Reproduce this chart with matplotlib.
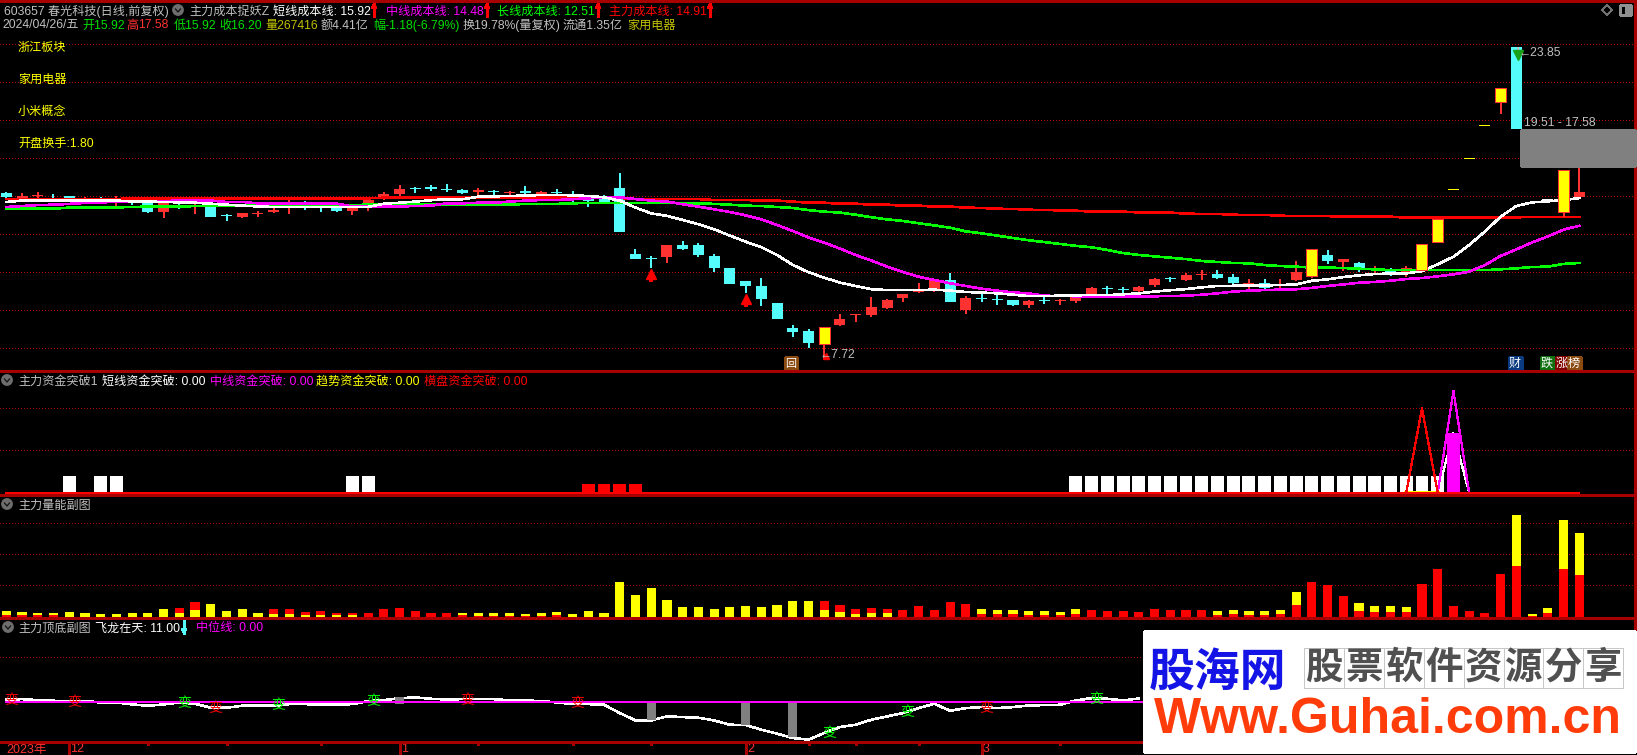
import numpy as np
import matplotlib
matplotlib.use("Agg")
import matplotlib.pyplot as plt
from matplotlib.patches import Rectangle, Circle, Polygon

plt.rcParams["font.family"] = ["Liberation Sans", "Noto Sans CJK SC", "DejaVu Sans"]
plt.rcParams["lines.antialiased"] = False
plt.rcParams["patch.antialiased"] = False

opens = [16.28, 16.00, 16.16, 16.21, 16.14, 15.93, 15.97, 15.93, 16.05, 15.97,
         15.31, 15.88, 15.73, 15.76, 15.16, 15.05, 15.19, 15.33, 15.57, 15.76,
         15.67, 15.59, 15.36, 15.73, 16.10, 16.24, 16.55, 16.60, 16.50, 16.45,
         16.35, 16.40, 16.28, 16.40, 16.24, 16.35, 16.14, 16.02, 16.10, 16.55,
         13.14, 12.92, 12.99, 13.61, 13.61, 13.04, 12.42, 11.75, 11.49, 10.61,
         9.32, 9.17, 8.49, 9.48, 9.99, 9.99, 10.35, 10.87, 11.18, 11.28,
         11.80, 10.25, 10.87, 10.82, 10.77, 10.51, 10.77, 10.73, 10.72, 11.08,
         11.37, 11.35, 11.23, 11.54, 11.90, 11.80, 12.06, 12.11, 11.95, 11.54,
         11.64, 11.54, 11.80, 12.00, 13.09, 12.73, 12.68, 12.31, 12.37, 12.21,
         12.31, 13.76, 16.43, 18.03, 19.74, 20.99, 23.85, 17.67, 15.91, 15.31, 16.09]
closes = [16.10, 16.14, 16.21, 16.17, 16.04, 15.97, 15.93, 15.97, 16.02, 15.31,
          15.76, 15.85, 15.85, 15.05, 15.11, 15.26, 15.28, 15.41, 15.62, 15.59,
          15.62, 15.36, 15.59, 15.93, 16.24, 16.50, 16.50, 16.52, 16.47, 16.29,
          16.45, 16.36, 16.35, 16.29, 16.35, 16.31, 16.07, 15.88, 15.73, 14.28,
          12.89, 12.87, 13.61, 13.40, 13.09, 12.42, 11.59, 11.49, 10.82, 9.79,
          9.11, 8.55, 9.37, 9.79, 10.03, 10.40, 10.77, 11.08, 11.23, 11.80,
          10.66, 10.87, 10.82, 10.77, 10.51, 10.72, 10.72, 10.77, 11.08, 11.39,
          11.32, 11.30, 11.45, 11.85, 11.85, 12.06, 12.11, 11.90, 11.64, 11.64,
          11.39, 11.59, 12.21, 13.40, 12.78, 12.88, 12.42, 12.42, 12.21, 12.42,
          13.66, 14.95, 16.48, 18.08, 19.79, 21.72, 19.60, 17.72, 15.97, 17.48, 16.34]
highs = [16.35, 16.29, 16.35, 16.26, 16.14, 16.10, 16.10, 16.14, 16.10, 15.97,
         15.85, 15.97, 16.02, 15.76, 15.21, 15.26, 15.36, 15.52, 15.93, 15.88,
         15.76, 15.59, 15.59, 16.04, 16.35, 16.71, 16.60, 16.71, 16.76, 16.50,
         16.55, 16.45, 16.40, 16.66, 16.40, 16.50, 16.40, 16.19, 16.19, 17.33,
         13.40, 13.04, 13.61, 13.81, 13.71, 13.14, 12.42, 11.75, 11.90, 10.61,
         9.48, 9.27, 9.37, 10.04, 10.03, 10.92, 10.82, 11.08, 11.65, 11.80,
         12.16, 10.97, 11.08, 11.08, 10.77, 10.77, 10.97, 10.82, 11.08, 11.44,
         11.49, 11.45, 11.50, 11.90, 11.95, 12.16, 12.31, 12.31, 12.11, 11.85,
         11.85, 11.85, 12.78, 13.40, 13.35, 12.88, 12.73, 12.52, 12.42, 12.52,
         13.66, 14.95, 16.48, 18.08, 19.79, 21.72, 23.85, 17.72, 15.97, 17.48, 17.69]
lows = [16.02, 15.97, 16.02, 16.05, 16.02, 15.74, 15.76, 15.62, 15.67, 15.26,
        15.00, 15.47, 15.21, 15.05, 14.85, 15.00, 15.05, 15.26, 15.21, 15.41,
        15.31, 15.31, 15.16, 15.36, 15.93, 16.14, 16.29, 16.40, 16.35, 16.24,
        16.14, 16.14, 16.14, 16.24, 16.19, 16.14, 15.67, 15.57, 15.73, 14.28,
        12.89, 12.42, 12.68, 13.35, 12.99, 12.21, 11.59, 11.13, 10.46, 9.79,
        8.86, 8.29, 7.72, 9.42, 9.63, 9.89, 10.30, 10.66, 11.13, 11.18,
        10.66, 10.04, 10.66, 10.51, 10.46, 10.35, 10.56, 10.51, 10.61, 11.08,
        11.08, 11.11, 11.11, 11.44, 11.70, 11.75, 11.80, 11.85, 11.54, 11.28,
        11.33, 11.33, 11.75, 11.90, 12.63, 12.26, 12.21, 12.11, 12.00, 11.95,
        12.31, 13.76, 16.43, 18.03, 19.74, 20.37, 19.60, 17.67, 15.91, 15.05, 16.03]
yellow_days = [52, 83, 90, 91, 95, 99]
limit_days = [92, 93, 94]
white_days = [97, 98]

short_cost = [15.83, 15.90, 15.90, 15.90, 15.90, 15.90, 15.90, 15.90, 15.86, 15.85,
              15.83, 15.81, 15.79, 15.74, 15.69, 15.64, 15.60, 15.57, 15.57, 15.57,
              15.57, 15.57, 15.57, 15.57, 15.74, 15.79, 15.85, 15.92, 15.97, 15.97,
              16.10, 16.12, 16.14, 16.16, 16.19, 16.20, 16.17, 16.14, 16.07, 15.90,
              15.54, 15.24, 15.11, 14.90, 14.68, 14.42, 14.09, 13.78, 13.49, 13.09,
              12.58, 12.20, 11.92, 11.66, 11.49, 11.32, 11.28, 11.28, 11.28, 11.30,
              11.25, 11.18, 11.15, 11.11, 11.04, 10.97, 10.97, 10.99, 11.01, 11.02,
              11.02, 11.06, 11.11, 11.20, 11.27, 11.33, 11.42, 11.49, 11.50, 11.52,
              11.52, 11.54, 11.57, 11.76, 11.83, 11.95, 12.04, 12.11, 12.13, 12.14,
              12.26, 12.61, 13.00, 13.61, 14.30, 15.07, 15.62, 15.81, 15.86, 15.93, 16.03]
mid_cost = [15.57, 15.62, 15.67, 15.69, 15.73, 15.78, 15.81, 15.83, 15.86, 15.88,
            15.88, 15.90, 15.90, 15.90, 15.83, 15.83, 15.76, 15.76, 15.76, 15.76,
            15.76, 15.74, 15.60, 15.60, 15.60, 15.60, 15.62, 15.64, 15.76, 15.76,
            15.79, 15.79, 15.85, 15.90, 15.93, 15.93, 15.97, 16.02, 16.05, 16.07,
            15.98, 15.90, 15.85, 15.71, 15.59, 15.45, 15.31, 15.14, 14.93, 14.64,
            14.33, 14.00, 13.73, 13.42, 13.09, 12.80, 12.49, 12.21, 11.97, 11.80,
            11.63, 11.49, 11.35, 11.25, 11.16, 11.11, 10.99, 10.97, 10.96, 10.94,
            10.94, 10.94, 10.94, 10.96, 10.97, 10.99, 11.04, 11.11, 11.20, 11.25,
            11.28, 11.30, 11.32, 11.39, 11.49, 11.57, 11.66, 11.70, 11.76, 11.85,
            11.90, 11.99, 12.09, 12.23, 12.57, 13.04, 13.38, 13.74, 14.05, 14.40, 14.60]
long_cost = [15.47, 15.48, 15.48, 15.48, 15.54, 15.55, 15.55, 15.55, 15.57, 15.59,
             15.59, 15.59, 15.62, 15.62, 15.62, 15.62, 15.67, 15.67, 15.67, 15.67,
             15.67, 15.67, 15.67, 15.69, 15.69, 15.69, 15.69, 15.69, 15.69, 15.69,
             15.69, 15.69, 15.69, 15.73, 15.73, 15.73, 15.76, 15.78, 15.78, 15.78,
             15.78, 15.78, 15.78, 15.76, 15.76, 15.73, 15.69, 15.64, 15.62, 15.57,
             15.52, 15.41, 15.33, 15.28, 15.17, 15.04, 14.93, 14.85, 14.73, 14.62,
             14.50, 14.31, 14.21, 14.09, 13.97, 13.85, 13.76, 13.66, 13.56, 13.49,
             13.35, 13.19, 13.09, 13.02, 12.95, 12.88, 12.78, 12.73, 12.68, 12.66,
             12.57, 12.52, 12.49, 12.44, 12.44, 12.42, 12.38, 12.35, 12.31, 12.31,
             12.31, 12.31, 12.31, 12.31, 12.31, 12.35, 12.40, 12.47, 12.49, 12.63, 12.68]
main_cost = [15.98, 15.98, 15.98, 15.98, 15.98, 15.98, 15.98, 15.98, 16.02, 16.02,
             16.02, 16.02, 16.02, 16.02, 16.02, 16.02, 16.02, 16.02, 16.02, 16.02,
             16.02, 16.02, 16.02, 16.02, 16.05, 16.05, 16.05, 16.05, 16.05, 16.05,
             16.05, 16.05, 16.05, 16.05, 16.05, 16.05, 16.05, 16.05, 16.04, 16.04,
             15.98, 15.98, 15.98, 15.98, 15.98, 15.93, 15.93, 15.93, 15.90, 15.90,
             15.85, 15.79, 15.79, 15.74, 15.74, 15.69, 15.69, 15.64, 15.64, 15.59,
             15.59, 15.54, 15.52, 15.48, 15.47, 15.43, 15.41, 15.40, 15.38, 15.33,
             15.33, 15.33, 15.29, 15.28, 15.28, 15.23, 15.21, 15.21, 15.17, 15.16,
             15.16, 15.12, 15.10, 15.10, 15.10, 15.07, 15.07, 15.07, 15.07, 15.02,
             15.02, 15.02, 15.02, 15.02, 15.02, 15.04, 15.04, 15.05, 15.05, 15.05, 15.05]
price_grid = [23.99, 22.03, 20.06, 18.10, 16.14, 14.17, 12.21, 10.25, 8.29]

# breakout panel
white_bar_days = [4, 6, 7, 22, 23] + list(range(68, 92))
white_bar_val = 50
red_bar_days = [37, 38, 39, 40]
red_bar_val = 26
red_spike_days = [89, 90, 91]
red_spike = [0, 253, 0]
magenta_spike_days = [91, 92, 93]
magenta_spike = [0, 305, 0]
white_spike = [0, 178, 0]
yellow_flat_days = [89, 90, 91]
yellow_flat = [-2, -2, -2]
magenta_bar_day = [92]
magenta_bar_val = [178]
breakout_grid = [127, 253]

# volume panel
vol_red = [6, 5, 5, 5, 0, 0, 0, 0, 0, 0,
           0, 27, 45, 0, 0, 0, 0, 24, 24, 15,
           18, 12, 12, 12, 24, 27, 18, 12, 12, 6,
           3, 3, 3, 3, 4, 5, 0, 0, 0, 0,
           0, 0, 0, 0, 0, 0, 0, 0, 0, 0,
           0, 0, 48, 36, 24, 27, 24, 21, 33, 21,
           45, 39, 9, 9, 9, 6, 6, 6, 9, 21,
           18, 18, 15, 24, 21, 21, 21, 6, 9, 6,
           6, 9, 36, 105, 96, 63, 18, 15, 15, 15,
           99, 144, 33, 18, 12, 129, 153, 3, 12, 144, 126]
vol_yellow = [18, 15, 12, 12, 15, 12, 9, 9, 12, 12,
              24, 12, 21, 39, 18, 24, 12, 9, 9, 6,
              6, 6, 6, 0, 0, 0, 0, 0, 0, 12,
              12, 12, 12, 9, 12, 15, 9, 18, 12, 105,
              66, 87, 51, 30, 30, 24, 30, 33, 30, 36,
              48, 48, 21, 15, 9, 12, 12, 0, 0, 0,
              0, 0, 24, 21, 21, 18, 18, 15, 24, 0,
              0, 0, 0, 0, 0, 0, 0, 18, 21, 18,
              18, 21, 75, 0, 0, 0, 42, 33, 33, 30,
              0, 0, 0, 0, 0, 0, 306, 9, 27, 291, 252]
vol_grid = [95, 188, 281]

# top/bottom panel
dragon = [8, 10, 7, 5, 4, 4, 0, 0, -6, -10,
          -6, 0, -4, -16, -16, -10, -10, -10, -5, -5,
          -7, -7, -5, 4, 7, 13, 15, 11, 9, 10,
          10, 10, 6, 6, 4, 0, -5, -5, -7, -32,
          -54, -54, -42, -44, -46, -54, -67, -68, -82, -94,
          -107, -112, -92, -74, -67, -52, -42, -32, -17, -4,
          -25, -17, -14, -17, -14, -9, -8, -7, 6, 13,
          11, 6, 12]
gray_days = [25, 41, 47, 50]
gray_top = [15, 0, 0, 0]
gray_bottom = [-4, -54, -68, -105]
red_flip_days = [0, 4, 13, 29, 36, 62]
red_flip_vals = [8, 2, -17, 8, -2, -17]
green_flip_days = [11, 17, 23, 52, 57, 69]
green_flip_vals = [-2, -7, 5, -92, -28, 10]
minor_days = [9, 14, 20, 30, 36, 41, 51, 54, 58, 67]
month_days = [4, 25, 47, 62]
month_labels = ["12", "1", "2", "3"]

W, H = 1637, 755
RED = "#ff3232"
CYAN = "#54fcfc"
LINE = "#a80000"
GRID = "#b00000"
DOT = (0, (1, 3))


def make_axes(top, bottom):
    ax = fig.add_axes([0, 1 - bottom / H, 1, (bottom - top) / H])
    ax.set_facecolor("black")
    ax.set_xlim(-0.4, 103.67)
    ax.axis("off")
    return ax


def label(x, y, s, color, size=8.7, **kw):
    # baseline so mixed latin / cjk strings stay on one line
    ov.text(x, y + 4.5, s, color=color, fontsize=size, va="baseline", ha="left", **kw)


def fold_icon(x, y):
    ov.add_patch(Circle((x, y), 5.2, color="#6e6e6e", antialiased=True))
    ov.plot([x - 2.5, x, x + 2.5], [y - 1, y + 2, y - 1], color="#111111", lw=0.9, antialiased=True)


def thin_arrow(x, y, color, up=True):
    ov.plot([x, x], [y - 6, y + 6], color=color, lw=0.8)
    d = 1 if up else -1
    tip = y - 6 * d
    ov.add_patch(Polygon([[x - 2, tip + 4 * d], [x, tip], [x + 2, tip + 4 * d]], color=color))


fig = plt.figure(figsize=(W / 100, H / 100), dpi=100, facecolor="black")
days = np.arange(len(opens))

# main panel: prices are linear
ax = make_axes(1, 371)
ax.set_ylim(26.262 - 371 / 19.36, 26.262 - 1 / 19.36)
for p in price_grid:
    ax.axhline(p, color="#c00000", lw=0.7, ls=DOT, zorder=1)
o = np.array(opens)
c = np.array(closes)
colors = np.where(c >= o, RED, CYAN)
plain = [i for i in days if i not in yellow_days + limit_days + white_days]
ax.vlines(plain, np.array(lows)[plain], np.array(highs)[plain], colors=colors[plain], lw=1.2, zorder=2)
ax.bar(plain, np.abs(c - o)[plain], bottom=np.minimum(o, c)[plain], width=0.7, color=colors[plain], zorder=2)
ax.plot(days, main_cost, color="#ff0000", lw=1.15, zorder=3)
ax.plot(days, long_cost, color="#00ff00", lw=1.15, zorder=3)
ax.plot(days, mid_cost, color="#ff00ff", lw=1.15, zorder=3)
ax.plot(days, short_cost, color="white", lw=1.15, zorder=3)
ax.vlines(yellow_days, np.array(lows)[yellow_days], np.array(highs)[yellow_days], colors=RED, lw=1.2, zorder=4)
ax.bar(yellow_days, np.abs(c - o)[yellow_days], bottom=np.minimum(o, c)[yellow_days], width=0.7,
       color="#ffff00", edgecolor=RED, linewidth=0.5, zorder=4)
ax.bar(limit_days, np.abs(c - o)[limit_days], bottom=np.minimum(o, c)[limit_days], width=0.7,
       color="#ffff00", zorder=4)
ax.bar(white_days, np.abs(c - o)[white_days], bottom=np.minimum(o, c)[white_days], width=0.7,
       color="white", zorder=4)
# signal arrows
ax.vlines([41, 47], [11.71, 10.40], [12.0, 10.7], colors="#ff0000", lw=1.6, zorder=5)
ax.plot([41, 47], [12.12, 10.83], "^", color="#ff0000", ms=7.5, zorder=5)
ax.plot([52.1], [7.87], "^", color="#ff0000", ms=5, zorder=5)
ax.vlines([96.1], [23.45], [23.85], colors="#c0c0c0", lw=1.2, zorder=5)
ax.plot([96.1], [23.4], "v", color="#19a019", ms=7.5, zorder=5)

# breakout panel
ax2 = make_axes(371, 495)
ax2.set_ylim(-7, 365)
for g in breakout_grid:
    ax2.axhline(g, color=GRID, lw=0.7, ls=DOT, zorder=1)
ax2.bar(white_bar_days, white_bar_val, width=0.82, color="white", zorder=2)
ax2.bar(red_bar_days, red_bar_val, width=0.82, color="#ff0000", zorder=2)
ax2.plot(magenta_spike_days, white_spike, color="white", lw=0.9, zorder=3)
ax2.bar(magenta_bar_day, magenta_bar_val, width=0.82, color="#ff00ff", zorder=4)
ax2.plot(magenta_spike_days, magenta_spike, color="#ff00ff", lw=0.9, zorder=4)
ax2.plot(yellow_flat_days, yellow_flat, color="#ffff00", lw=1.6, zorder=3)
ax2.plot([0, 100], [0, 0], color="#ff0000", lw=1.4, zorder=5)
ax2.plot(red_spike_days, red_spike, color="#ff0000", lw=0.9, zorder=5)

# volume panel
ax3 = make_axes(495, 618)
ax3.set_ylim(-3, 366)
for g in vol_grid:
    ax3.axhline(g, color=GRID, lw=0.7, ls=DOT, zorder=1)
vr = np.array(vol_red)
vy = np.array(vol_yellow)
# taller one goes behind
ax3.bar(days, vy, width=0.58, color="#ffff00", zorder=2)
ax3.bar(days[vr > vy], vr[vr > vy], width=0.58, color="#ff0000", zorder=3)
front = (vy < vr) & (vy > 0)
ax3.bar(days[front], vy[front], width=0.58, color="#ffff00", zorder=4)
front = (vr <= vy) & (vr > 0)
ax3.bar(days[front], vr[front], width=0.58, color="#ff0000", zorder=4)

# top/bottom panel
ax4 = make_axes(618, 742)
ax4.set_ylim(-119, 254)
ax4.axhline(136, color=GRID, lw=0.7, ls=DOT, zorder=1)
ax4.plot(days[:len(dragon)], dragon, color="white", lw=1.15, zorder=2)
ax4.bar(gray_days, np.array(gray_top) - np.array(gray_bottom), bottom=gray_bottom, width=0.55, color="#808080", zorder=3)
ax4.plot([0, 100], [0, 0], color="#ff00ff", lw=1.15, zorder=3)
for d, v in zip(red_flip_days, red_flip_vals):
    ax4.text(d + 0.3, v, "变", color="#ff0000", fontsize=10, ha="center", va="center", zorder=5)
for d, v in zip(green_flip_days, green_flip_vals):
    ax4.text(d + 0.3, v, "变", color="#00ff00", fontsize=10, ha="center", va="center", zorder=5)

# date strip
ax5 = make_axes(742, 755)
ax5.set_ylim(13, 0)
ax5.vlines(minor_days, 0, 3, colors=LINE, lw=0.8)
ax5.vlines(month_days, 0, 13, colors=LINE, lw=0.8)
for d, s in zip(month_days, month_labels):
    ax5.text(d + 0.08, 7.5, s, color=RED, fontsize=9, ha="left", va="center")
ax5.text(0, 7.5, "2023年", color=RED, fontsize=9, ha="left", va="center")

# overlay in pixel coords for text and furniture
ov = fig.add_axes([0, 0, 1, 1], zorder=10)
ov.set_xlim(0, W)
ov.set_ylim(H, 0)
ov.axis("off")
for y in [1, 371, 495, 618, 742]:
    ov.plot([0, W], [y, y], color=LINE, lw=0.8)
ov.plot([1635, 1635], [0, 742], color=LINE, lw=0.8)

label(3.5, 10, "603657 春光科技(日线,前复权)", "#c0c0c0")
fold_icon(178, 10)
label(189, 10, "主力成本捉妖Z", "#c0c0c0")
label(273, 10, "短线成本线: 15.92", "white")
thin_arrow(374, 10, "#ff0000")
label(386, 10, "中线成本线: 14.48", "#ff00ff")
thin_arrow(487, 10, "#ff0000")
label(497, 10, "长线成本线: 12.51", "#00ff00")
thin_arrow(598, 10, "#ff0000")
label(609, 10, "主力成本线: 14.91", "#ff0000")
thin_arrow(710, 10, "#ff0000")

label(2, 24, "2024/04/26/五", "#c0c0c0")
label(82, 24, "开15.92", "#00e000")
label(126, 24, "高", RED)
label(138, 24, "17.58", RED)
label(174, 24, "低15.92", "#00e000")
label(219, 24, "收16.20", "#00e000")
label(265, 24, "量267416", "#c0c000")
label(321, 24, "额4.41亿", "#c0c0c0")
label(373, 24, "幅-1.18(-6.79%)", "#00e000")
label(463, 24, "换19.78%(量复权)", "#c0c0c0")
label(563, 24, "流通1.35亿", "#c0c0c0")
label(627, 24, "家用电器", "#c0c000")

label(18, 46, "浙江板块", "#ffff00")
label(18, 78, "家用电器", "#ffff00")
label(18, 110, "小米概念", "#ffff00")
label(18, 142, "开盘换手:1.80", "#ffff00")

# right corner buttons
ov.add_patch(Polygon([[1602, 10], [1607, 5], [1612, 10], [1607, 15]], fill=False, edgecolor="#707070", lw=0.8))
ov.add_patch(Rectangle((1620, 5), 11, 10, fill=False, edgecolor="#909090", lw=1.0))
ov.add_patch(Rectangle((1626, 6), 4, 8, color="#909090"))

# tooltip and price tags
ov.add_patch(Rectangle((1521, 130), 114, 36, color="#808080", zorder=3))
label(1524, 121, "19.51 - 17.58", "#c0c0c0")
label(1519, 52, "←23.85", "#c0c0c0")
label(820, 354, "←7.72", "#c0c0c0")

for x, s, col in [(1515, "财", "#0a3a80"), (1547, "跌", "#107010"), (1562, "涨", "#800000"), (1574, "榜", "#8a4a10")]:
    ov.add_patch(Rectangle((x - 6.5, 357), 13, 13, color=col))
    ov.text(x, 363.5, s, color="white", fontsize=8.7, ha="center", va="center")
ov.add_patch(Rectangle((785, 357), 12, 13, color="#8a4a10"))
ov.text(791, 363.5, "回", color="white", fontsize=8, ha="center", va="center")

# sub panel headers
fold_icon(7, 380)
label(18, 380, "主力资金突破1", "#c0c0c0")
label(101.5, 380, "短线资金突破: 0.00", "white")
label(210, 380, "中线资金突破: 0.00", "#ff00ff")
label(316, 380, "趋势资金突破: 0.00", "#ffff00")
label(424, 380, "横盘资金突破: 0.00", "#ff0000")
fold_icon(7, 504)
label(18, 504, "主力量能副图", "#c0c0c0")
fold_icon(8, 627)
label(18, 627, "主力顶底副图", "#c0c0c0")
label(95, 627, "飞龙在天: 11.00", "white")
thin_arrow(184, 627, CYAN, up=False)
label(196, 627, "中位线: 0.00", "#ff00ff")

# site stamp in the corner
ov.add_patch(Rectangle((1144, 631), 491, 121, color="white", zorder=6))
ov.text(1218, 674, "股海网", color="#1414e6", fontsize=33, fontweight="bold", ha="center", va="center", zorder=7)
for k, ch in enumerate("股票软件资源分享"):
    ov.add_patch(Rectangle((1304 + k * 39.9, 648), 39.9, 40, fill=False, edgecolor="#c8c8c8", lw=0.7, zorder=7))
    ov.text(1324 + k * 39.9, 669, ch, color="#505050", fontsize=27, fontweight="bold", ha="center", va="center", zorder=8)
ov.text(1388, 720, "Www.Guhai.com.cn", color="#ff3c0a", fontsize=36, fontweight="bold", ha="center", va="center", zorder=7)

fig.savefig("out.png", dpi=100, facecolor="black")
